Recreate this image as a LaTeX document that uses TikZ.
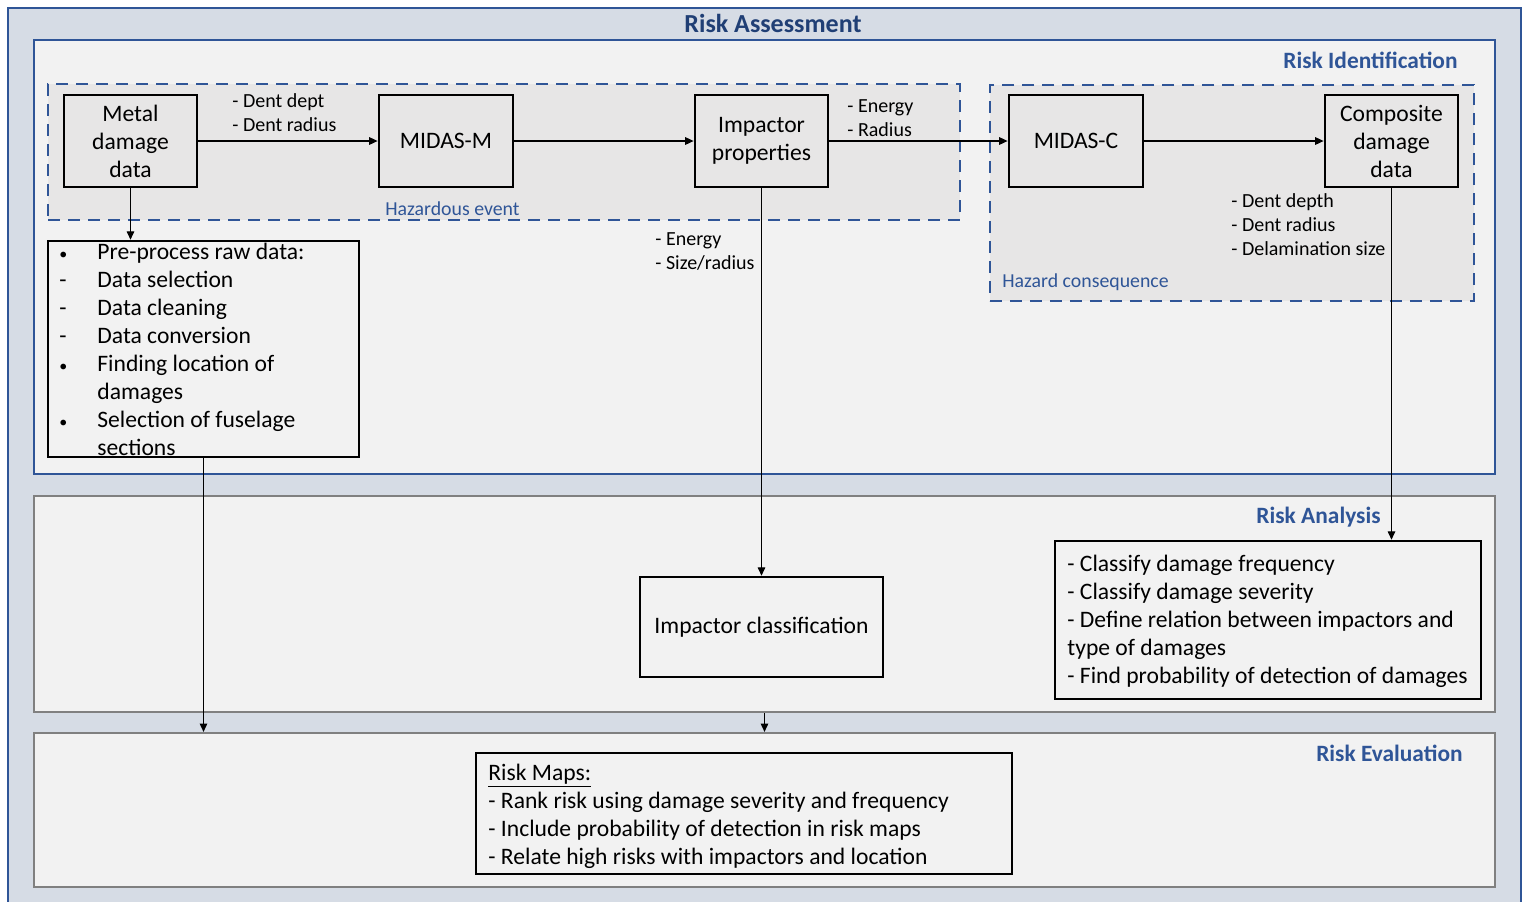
\documentclass[tikz,border=0pt]{standalone}
\usepackage{fontspec}
\setmainfont{Carlito}
\usetikzlibrary{arrows.meta}
\definecolor{outerfill}{HTML}{D6DCE5}
\definecolor{bblue}{HTML}{2F5597}
\definecolor{tblue}{HTML}{2F5597}
\definecolor{ttblue}{HTML}{203F75}
\definecolor{panel}{HTML}{F2F2F2}
\definecolor{hazfill}{HTML}{E7E6E6}
\definecolor{gborder}{HTML}{808080}
\newcommand{\stack}[1]{\begin{tabular}[t]{@{}l@{}}#1\end{tabular}}
\newcommand{\smb}{{\fontsize{8}{14}\selectfont\textbullet}}
\tikzset{
 box/.style={draw=black, line width=1.4pt, fill=hazfill, align=center, inner sep=2pt, font=\fontsize{11.8}{14}\selectfont},
 lbox/.style={draw=black, line width=1.3pt, fill=panel, inner sep=0pt},
 sect/.style={draw=bblue, line width=1.1pt, fill=panel, inner sep=0pt},
 gsect/.style={draw=gborder, line width=1.1pt, fill=panel, inner sep=0pt},
 haz/.style={draw=bblue, line width=1.4pt, dash pattern=on 6pt off 4pt, fill=hazfill, inner sep=0pt},
 conn/.style={line width=0.55pt, -{Triangle[length=4.2pt,width=3.8pt]}},
 lab/.style={font=\fontsize{10}{12}\selectfont, inner sep=0pt, anchor=base west},
 lst/.style={font=\fontsize{11.8}{14}\selectfont, inner sep=0pt, anchor=base west},
 title/.style={font=\fontsize{11.7}{13}\selectfont\bfseries, text=tblue, inner sep=0pt},
 sub/.style={font=\fontsize{9.9}{12}\selectfont, text=tblue, inner sep=0pt, anchor=base west},
}
\begin{document}
\begin{tikzpicture}[x=0.5pt,y=-0.5pt]
\useasboundingbox (0,0) rectangle (1523,901);
\clip (0,0) rectangle (1523,901);
% outer frame
\draw[draw=bblue, line width=1.2pt, fill=outerfill] (8,8) rectangle (1521,920);
\node[font=\fontsize{13}{15}\selectfont\bfseries, text=ttblue, inner sep=0pt, anchor=base] (tassess) at (773,32) {Risk Assessment};
% sections
\node[sect, minimum width=730.5pt, minimum height=217pt] (ident) at (764.5,257) {};
\node[gsect, minimum width=730.5pt, minimum height=108pt] (analysis) at (764.5,604) {};
\node[gsect, minimum width=730.5pt, minimum height=77pt] (eval) at (764.5,810) {};
\node[haz, minimum width=456pt, minimum height=68pt] (hazev) at (504,152) {};
\node[haz, minimum width=242pt, minimum height=108pt] (hazcon) at (1232,193) {};
% titles
\node[title, anchor=base east] (tident) at (1458,68) {Risk Identification};
\node[title, anchor=base east] (tanal) at (1381,523) {Risk Analysis};
\node[title, anchor=base east] (teval) at (1463,761) {Risk Evaluation};
\node[sub] (thazev) at (385,215) {Hazardous event};
\node[sub] (thazcon) at (1002,287) {Hazard consequence};
% boxes
\node[box, minimum width=66.5pt, minimum height=46pt] (metal) at (130.5,141) {Metal\\damage\\data};
\node[box, minimum width=67pt, minimum height=46pt] (midasm) at (446,141) {MIDAS-M};
\node[box, minimum width=66.5pt, minimum height=46pt] (imprp) at (761.5,141) {Impactor\\properties};
\node[box, minimum width=67pt, minimum height=46pt] (midasc) at (1076,141) {MIDAS-C};
\node[box, minimum width=66.5pt, minimum height=46pt] (comp) at (1391.5,141) {Composite\\damage\\data};
\node[lbox, minimum width=155.5pt, minimum height=108pt] (pre) at (203.5,349) {};
\node[lbox, minimum width=121.5pt, minimum height=50pt, font=\fontsize{11.8}{14}\selectfont] (impcl) at (761.5,627) {Impactor classification};
\node[lbox, minimum width=213pt, minimum height=79pt] (anal) at (1268,620) {};
\node[lbox, minimum width=268pt, minimum height=60.5pt] (maps) at (744,813.5) {};
% list texts
\node[lst] (pretext) at (59,259) {\begin{tabular}[t]{@{}p{19pt}@{}l@{}}
\smb & Pre-process raw data:\\
- & Data selection\\
- & Data cleaning\\
- & Data conversion\\
\smb & Finding location of\\
 & damages\\
\smb & Selection of fuselage\\
 & sections
\end{tabular}};
\node[lst] (analtext) at (1067,571) {\stack{- Classify damage frequency\\
- Classify damage severity\\
- Define relation between impactors and\\
type of damages\\
- Find probability of detection of damages}};
\node[lst] (mapstext) at (488,780) {\stack{\underline{Risk Maps:}\\
- Rank risk using damage severity and frequency\\
- Include probability of detection in risk maps\\
- Relate high risks with impactors and location}};
% connector labels
\node[lab] (l1) at (232,107) {\stack{- Dent dept\\- Dent radius}};
\node[lab] (l2) at (847,112) {\stack{- Energy\\- Radius}};
\node[lab] (l3) at (655,245) {\stack{- Energy\\- Size/radius}};
\node[lab] (l4) at (1231,207) {\stack{- Dent depth\\- Dent radius\\- Delamination size}};
% connectors
\draw[conn] (metal.east) -- (midasm.west);
\draw[conn] (midasm.east) -- (imprp.west);
\draw[conn] (imprp.east) -- (midasc.west);
\draw[conn] (midasc.east) -- (comp.west);
\draw[conn] (metal.south) -- (metal.south |- pre.north);
\draw[conn] (imprp.south) -- (impcl.north);
\draw[conn] (comp.south) -- (comp.south |- anal.north);
\draw[conn] (pre.south) -- (pre.south |- eval.north);
\draw[conn] (analysis.south) -- (eval.north);
\end{tikzpicture}
\end{document}
